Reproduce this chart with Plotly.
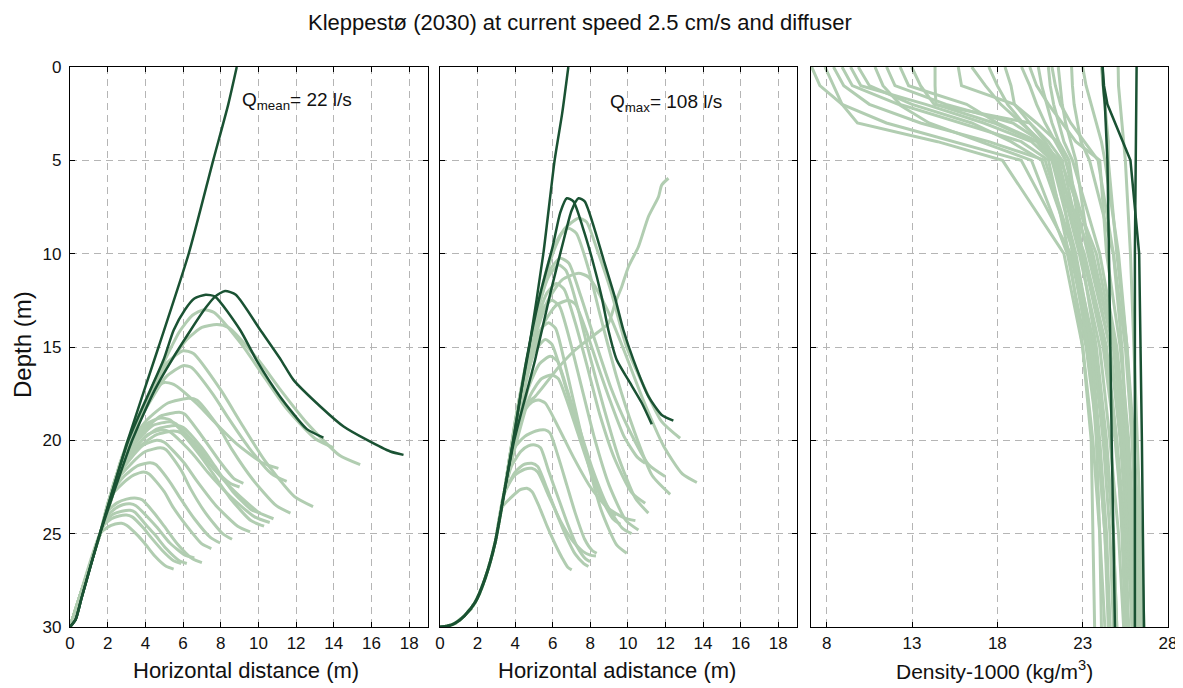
import plotly.graph_objects as go

# ---------------- colours / constants ----------------
DARK = "#1a5233"
LIGHT = "#b1cdb1"
FONT = "Liberation Sans, Arial, sans-serif"

# ---------------- LEFT PANEL (Q mean = 22 l/s) ----------------
left_trunk = [(0, 30), (0.35, 28.9), (1.6, 25.0)]

left_light = [
    [(2.3, 22.8), (3.3, 19.5), (4.8, 16.2), (5.8, 14.2), (6.5, 13.3), (7.1, 13.0), (7.65, 13.15), (9.1, 14.85), (10.1, 16.3), (11.45, 18.25), (13.0, 19.9), (14.0, 20.4)],
    [(2.3, 22.8), (3.4, 19.3), (5.0, 16.3), (6.2, 14.6), (7.0, 13.95), (7.8, 13.8), (8.4, 13.95), (10.0, 15.7), (11.1, 17.2), (12.6, 19.1), (14.3, 20.8), (15.4, 21.3)],
    [(2.3, 22.8), (3.0, 20.2), (4.2, 17.6), (5.1, 15.9), (6.0, 15.2), (6.55, 15.35), (8.0, 17.3), (9.0, 18.95), (10.35, 21.1), (11.9, 23.0), (12.9, 23.55)],
    [(2.3, 22.8), (3.0, 20.3), (4.2, 18.0), (5.1, 16.6), (6.0, 16.0), (6.45, 16.1), (7.6, 17.55), (8.4, 18.8), (9.5, 20.4), (10.7, 21.8), (11.5, 22.2)],
    [(2.2, 23.0), (2.8, 20.8), (3.6, 18.9), (4.3, 17.4), (5.0, 16.9), (5.5, 17.0), (6.75, 18.05), (7.6, 18.95), (8.8, 20.15), (10.2, 21.2), (11.06, 21.5)],
    [(2.2, 23.0), (2.8, 20.8), (4.0, 19.0), (5.2, 18.0), (6.3, 17.75), (6.75, 17.85), (7.9, 19.3), (8.6, 20.5), (9.7, 22.1), (10.95, 23.5), (11.7, 23.9)],
    [(2.2, 23.0), (2.7, 21.1), (3.8, 19.6), (4.8, 18.7), (5.8, 18.5), (6.1, 18.6), (6.8, 19.5), (7.3, 20.2), (8.0, 21.2), (8.7, 22.05), (9.2, 22.3)],
    [(2.6, 21.5), (3.4, 20.0), (4.1, 19.1), (4.8, 18.8), (5.3, 18.9), (6.5, 20.15), (7.4, 21.25), (8.6, 22.6), (10.0, 23.85), (10.8, 24.2)],
    [(2.6, 21.5), (3.5, 20.1), (4.4, 19.2), (5.3, 19.0), (5.6, 19.1), (6.4, 19.9), (7.0, 20.6), (7.6, 21.5), (8.5, 22.3), (9.0, 22.5)],
    [(2.5, 21.8), (3.4, 20.5), (4.1, 19.7), (4.8, 19.45), (5.3, 19.55), (6.5, 20.7), (7.3, 21.7), (8.5, 23.0), (9.8, 24.1), (10.6, 24.4)],
    [(2.5, 21.8), (3.6, 20.4), (4.6, 19.7), (5.5, 19.5), (5.9, 19.6), (6.9, 20.8), (7.6, 21.8), (8.5, 23.1), (9.6, 24.3), (10.3, 24.6)],
    [(2.4, 22.2), (3.2, 21.0), (3.9, 20.25), (4.6, 20.0), (5.0, 20.1), (6.05, 21.2), (6.75, 22.2), (7.75, 23.5), (8.9, 24.6), (9.56, 24.9)],
    [(2.4, 22.3), (3.3, 21.2), (4.0, 20.6), (4.8, 20.4), (5.1, 20.5), (5.9, 21.6), (6.4, 22.6), (7.2, 23.9), (8.1, 25.0), (8.6, 25.3)],
    [(2.2, 22.8), (2.9, 21.9), (3.6, 21.35), (4.25, 21.2), (4.55, 21.3), (5.35, 22.3), (5.85, 23.1), (6.6, 24.2), (7.45, 25.2), (7.97, 25.5)],
    [(2.1, 23.1), (2.8, 22.3), (3.4, 21.85), (3.9, 21.7), (4.2, 21.8), (5.0, 22.75), (5.45, 23.55), (6.2, 24.6), (7.0, 25.55), (7.5, 25.8)],
    [(2.0, 23.8), (2.5, 23.35), (3.0, 23.15), (3.54, 23.1), (3.85, 23.2), (4.55, 24.0), (5.0, 24.6), (5.7, 25.55), (6.5, 26.35), (7.0, 26.55)],
    [(1.95, 24.1), (2.4, 23.65), (2.8, 23.45), (3.19, 23.4), (3.5, 23.5), (4.2, 24.2), (4.65, 24.7), (5.3, 25.5), (6.1, 26.15), (6.6, 26.3)],
    [(1.85, 24.35), (2.3, 23.95), (2.75, 23.8), (3.19, 23.75), (3.45, 23.85), (4.05, 24.55), (4.5, 25.05), (5.1, 25.8), (5.8, 26.45), (6.2, 26.6)],
    [(2.0, 24.65), (2.4, 24.48), (2.74, 24.44), (3.0, 24.55), (3.55, 25.05), (3.95, 25.5), (4.5, 26.2), (5.1, 26.75), (5.5, 26.9)],
    [(1.75, 24.6), (2.2, 24.2), (2.6, 24.05), (3.0, 24.0), (3.3, 24.1), (3.9, 24.7), (4.3, 25.2), (4.9, 25.9), (5.5, 26.45), (5.9, 26.6)],
    [(2.6, 21.6), (3.6, 20.2), (4.6, 19.4), (5.6, 19.2), (6.0, 19.3), (7.0, 20.4), (7.7, 21.4), (8.6, 22.7), (9.6, 23.7), (10.1, 23.9)],
]

left_dark_surface = [(0, 30), (0.3, 29.6), (0.6, 28.5), (1.5, 25.3), (3.0, 20.2), (4.7, 15.0), (6.3, 10.0), (7.6, 5.0), (8.4, 2.0), (8.85, 0)]
left_dark_a = [(0, 30), (0.3, 29.6), (0.6, 28.5), (1.5, 25.3), (3.1, 20.0), (4.96, 15.7), (5.5, 14.1), (6.1, 13.0), (6.6, 12.4), (7.2, 12.2), (7.7, 12.3), (9.03, 14.09), (9.95, 15.8), (11.15, 17.66), (12.57, 19.4), (13.45, 19.85)]
left_dark_b = [(0, 30), (0.3, 29.6), (0.6, 28.5), (1.5, 25.3), (3.3, 20.0), (4.5, 17.3), (5.4, 15.7), (6.4, 14.1), (7.2, 12.9), (7.7, 12.3), (8.23, 12.0), (8.8, 12.2), (10.1, 14.09), (11.2, 15.7), (11.86, 16.76), (13.3, 18.2), (14.52, 19.26), (15.76, 19.98), (17.0, 20.6), (17.7, 20.78)]

# ---------------- MIDDLE PANEL (Q max = 108 l/s) ----------------
mid_trunk = [(0, 30), (0.4, 29.95), (0.8, 29.8), (1.3, 29.4), (1.86, 28.7), (2.4, 27.4), (2.93, 25.5)]

mid_light = [
    [(3.4, 22.9), (3.9, 20.0), (4.6, 16.0), (5.3, 12.6), (6.0, 10.0), (6.6, 8.7), (7.37, 8.1), (7.8, 8.3), (8.4, 9.9), (9.1, 12.0), (9.9, 14.9), (10.8, 17.0), (11.8, 19.0), (12.78, 19.89)],
    [(3.4, 22.9), (3.9, 20.0), (4.5, 16.5), (5.2, 12.8), (5.9, 10.1), (6.4, 9.0), (6.83, 8.64), (7.25, 8.9), (7.9, 10.8), (8.5, 13.2), (9.4, 16.6), (10.3, 19.4), (11.3, 21.9), (12.25, 22.89)],
    [(3.4, 22.9), (4.1, 18.5), (4.9, 15.0), (5.7, 12.6), (6.5, 11.4), (7.37, 11.05), (7.9, 11.25), (8.9, 13.0), (9.8, 15.2), (10.8, 17.8), (11.9, 20.3), (12.9, 21.8), (13.67, 22.26)],
    [(3.4, 22.9), (4.0, 19.0), (4.7, 15.3), (5.4, 12.3), (5.9, 10.8), (6.4, 10.25), (6.85, 10.5), (7.5, 12.3), (8.2, 14.5), (9.1, 17.2), (10.0, 19.3), (11.1, 21.3), (11.98, 21.94)],
    [(3.4, 22.9), (4.0, 19.0), (4.6, 15.8), (5.2, 13.0), (5.8, 11.2), (6.3, 10.6), (6.7, 10.9), (7.3, 12.8), (7.9, 15.2), (8.7, 18.2), (9.5, 20.9), (10.4, 23.1), (11.09, 23.9)],
    [(3.4, 22.9), (4.0, 19.2), (4.6, 16.2), (5.2, 13.5), (5.7, 12.1), (6.2, 11.6), (6.6, 11.9), (7.2, 13.7), (7.8, 15.9), (8.5, 18.6), (9.3, 21.0), (10.2, 22.8), (10.92, 23.37)],
    [(3.4, 22.9), (4.1, 18.6), (4.9, 15.6), (5.6, 13.6), (6.2, 12.75), (6.83, 12.5), (7.2, 12.7), (7.8, 14.2), (8.4, 16.0), (9.1, 18.0), (9.8, 19.8), (10.5, 20.9), (10.92, 21.23)],
    [(3.4, 22.9), (4.0, 19.5), (4.6, 16.4), (5.1, 14.1), (5.5, 12.9), (5.95, 12.5), (6.35, 12.8), (6.9, 14.6), (7.5, 17.0), (8.2, 19.8), (9.0, 22.4), (9.9, 24.3), (10.56, 24.8)],
    [(3.4, 22.9), (4.1, 19.2), (4.6, 16.6), (5.0, 14.9), (5.4, 14.0), (5.77, 13.7), (6.15, 14.0), (6.65, 15.9), (7.2, 18.3), (7.9, 21.3), (8.6, 23.8), (9.4, 25.6), (9.94, 26.05)],
    [(3.4, 22.9), (4.1, 19.3), (4.6, 16.8), (5.0, 15.3), (5.6, 14.6), (5.95, 14.85), (6.5, 16.5), (7.1, 18.6), (7.8, 20.9), (8.5, 22.9), (9.2, 24.2), (9.6, 24.5)],
    [(3.4, 22.9), (4.2, 19.6), (4.8, 17.6), (5.4, 16.7), (5.95, 16.5), (6.3, 16.7), (6.8, 18.0), (7.3, 19.5), (7.9, 21.3), (8.5, 22.9), (9.1, 23.8), (9.4, 24.0)],
    [(3.4, 22.9), (4.2, 19.4), (4.7, 17.2), (5.3, 15.9), (5.86, 15.5), (6.25, 15.75), (6.8, 17.4), (7.4, 19.3), (8.1, 21.5), (8.9, 23.5), (9.7, 24.7), (10.2, 25.0)],
    [(3.4, 22.9), (3.9, 20.5), (4.5, 19.8), (5.1, 19.5), (5.59, 19.44), (5.85, 19.6), (6.3, 20.9), (6.75, 22.4), (7.2, 23.9), (7.7, 25.3), (8.1, 25.9), (8.34, 26.05)],
    [(3.4, 22.9), (3.8, 21.4), (4.3, 20.6), (4.7, 20.3), (5.06, 20.25), (5.35, 20.4), (5.8, 21.7), (6.3, 23.1), (6.8, 24.5), (7.3, 25.7), (7.75, 26.35), (7.99, 26.5)],
    [(3.4, 22.9), (4.0, 21.7), (4.45, 21.3), (4.88, 21.23), (5.2, 21.4), (5.7, 22.6), (6.2, 23.9), (6.7, 25.1), (7.2, 26.1), (7.65, 26.6), (7.9, 26.76)],
    [(3.3, 23.6), (3.9, 22.95), (4.25, 22.65), (4.62, 22.57), (4.9, 22.75), (5.3, 23.6), (5.7, 24.6), (6.1, 25.5), (6.5, 26.3), (6.8, 26.8), (7.01, 26.94)],
    [(3.4, 22.9), (3.95, 21.9), (4.5, 21.55), (4.88, 21.5), (5.2, 21.7), (5.8, 23.0), (6.4, 24.3), (7.0, 25.3), (7.6, 25.95), (8.0, 26.15), (8.3, 26.2)],
    [(3.4, 22.9), (4.0, 19.6), (4.5, 18.4), (4.9, 17.95), (5.24, 17.84), (5.6, 18.0), (6.3, 19.3), (7.1, 20.9), (8.0, 22.5), (8.9, 23.6), (9.8, 24.15), (10.4, 24.3)],
    [(3.4, 22.9), (3.9, 20.0), (4.4, 18.2), (5.06, 17.66), (6.3, 16.1), (7.19, 15.16), (8.08, 14.45), (8.96, 13.73), (9.32, 12.66), (9.67, 11.77), (10.03, 10.7), (10.56, 9.63), (11.09, 8.02), (11.63, 6.95), (11.8, 6.32), (12.16, 5.96)],
]

mid_dark_surface = [(3.4, 22.9), (3.9, 20.0), (4.3, 17.5), (4.75, 15.0), (5.5, 10.0), (6.1, 5.0), (6.5, 2.5), (6.83, 0)]
mid_dark_c = [(3.4, 22.9), (3.9, 20.0), (4.6, 15.7), (5.3, 12.3), (6.0, 9.6), (6.4, 7.8), (6.75, 7.03), (7.1, 7.2), (7.6, 8.6), (8.1, 10.3), (8.6, 12.3), (8.96, 14.09), (9.41, 15.7), (10.03, 16.78), (10.74, 18.0), (11.27, 19.14)]
mid_dark_d = [(3.4, 22.9), (3.95, 20.0), (5.06, 15.7), (5.9, 12.0), (6.6, 9.2), (7.0, 7.7), (7.37, 7.03), (7.7, 7.2), (8.2, 8.6), (8.7, 10.3), (9.3, 12.3), (9.76, 14.09), (10.3, 15.7), (11.1, 17.66), (11.8, 18.64), (12.42, 18.94)]

# ---------------- RIGHT PANEL (density profiles) ----------------
profile_depths = [0, 1, 2, 3, 4, 5, 10, 15, 20, 25, 30]

density_light = [
    [7.12, 7.6, 8.9, 9.8, 14.5, 18.3, 21.9, 23.0, 23.5, 23.6, 23.7],
    [7.9, 8.4, 8.9, 11.5, 15.5, 19.4, 22.3, 23.4, 23.8, 24.0, 24.1],
    [8.9, 9.5, 12.2, 14.0, 17.0, 20.0, 22.1, 23.2, 23.9, 24.3, 24.5],
    [9.85, 10.5, 13.0, 16.5, 18.8, 20.6, 22.5, 23.7, 24.3, 24.8, 25.0],
    [10.83, 11.3, 12.3, 15.8, 19.4, 21.0, 22.2, 23.0, 23.6, 24.0, 24.3],
    [11.51, 12.0, 15.0, 18.9, 20.6, 21.4, 22.8, 24.0, 24.6, 25.1, 25.4],
    [12.98, 13.5, 14.3, 19.9, 21.0, 21.8, 23.0, 24.3, 25.0, 25.5, 25.7],
    [14.35, 14.35, 14.4, 17.8, 20.3, 21.2, 22.6, 23.6, 24.2, 24.6, 24.8],
    [15.71, 15.9, 19.0, 20.3, 21.5, 22.0, 23.3, 24.6, 25.2, 25.6, 25.9],
    [18.45, 18.8, 19.0, 19.9, 20.8, 21.5, 22.4, 23.3, 23.9, 24.3, 24.6],
    [19.42, 19.9, 20.3, 20.8, 21.4, 22.0, 23.6, 24.8, 25.4, 25.8, 26.0],
    [20.4, 20.6, 20.9, 21.2, 21.6, 22.2, 23.0, 24.2, 24.9, 25.4, 25.6],
    [20.99, 21.1, 21.3, 21.6, 21.9, 22.4, 24.0, 25.0, 25.6, 26.0, 26.2],
    [21.57, 21.7, 21.8, 22.0, 22.3, 22.6, 23.4, 24.6, 25.3, 25.7, 25.9],
    [22.35, 22.4, 22.5, 22.7, 22.9, 23.4, 24.8, 25.5, 25.9, 26.2, 26.4],
    [24.1, 24.2, 24.3, 24.4, 24.5, 24.5, 25.0, 25.6, 26.0, 26.3, 26.5],
    [25.08, 25.1, 25.2, 25.3, 25.4, 25.5, 25.8, 26.0, 26.2, 26.4, 26.6],
    [8.4, 9.0, 10.5, 13.5, 17.5, 20.8, 22.5, 23.5, 24.0, 24.4, 24.6],
    [9.4, 10.0, 13.8, 17.2, 20.0, 21.2, 23.1, 24.4, 25.0, 25.3, 25.5],
    [12.3, 12.8, 16.2, 18.0, 20.4, 21.7, 23.8, 24.9, 25.5, 25.9, 26.1],
    [17.5, 18.0, 18.6, 19.5, 20.5, 21.3, 23.5, 24.8, 25.4, 25.8, 26.0],
    [19.9, 20.3, 21.0, 21.8, 22.6, 24.0, 24.4, 25.2, 25.7, 26.0, 26.2],
    [23.0, 23.2, 23.5, 23.8, 24.1, 24.3, 25.1, 25.6, 25.9, 26.1, 26.3],
    [21.2, 21.4, 21.7, 22.3, 23.1, 23.9, 24.8, 25.3, 25.6, 25.8, 25.9],
    [16.5, 17.3, 18.2, 19.4, 20.6, 21.6, 22.9, 23.8, 24.4, 24.8, 25.0],
]

density_dark_1 = [24.17, 24.2, 24.3, 24.35, 24.4, 24.45, 24.54, 24.6, 24.7, 24.8, 24.89]
density_dark_2 = [26.16, 26.15, 26.14, 26.13, 26.12, 26.12, 26.06, 26.06, 26.06, 26.06, 26.06]
density_dark_3 = [24.17, 24.25, 24.45, 24.9, 25.35, 25.8, 26.31, 26.4, 26.47, 26.53, 26.59]

# ---------------- tick definitions ----------------
dist_ticks = [0, 2, 4, 6, 8, 10, 12, 14, 16, 18]
depth_ticks = [0, 5, 10, 15, 20, 25, 30]
density_ticks = [8, 13, 18, 23, 28]

# ---------------- figure ----------------
fig = go.Figure()


def add_curve(points, xa, ya, color, width, shape="spline"):
    fig.add_trace(go.Scatter(
        x=[p[0] for p in points], y=[p[1] for p in points],
        mode="lines", xaxis=xa, yaxis=ya,
        line=dict(color=color, width=width, shape=shape, smoothing=0.6),
        hoverinfo="skip", showlegend=False))


for c in left_light:
    add_curve(left_trunk + c, "x", "y", LIGHT, 3)
for c in (left_dark_surface, left_dark_a, left_dark_b):
    add_curve(c, "x", "y", DARK, 2.5)

for c in mid_light:
    add_curve(mid_trunk + c, "x2", "y2", LIGHT, 3)
for c in (mid_dark_surface, mid_dark_c, mid_dark_d):
    add_curve(mid_trunk + c, "x2", "y2", DARK, 2.5)

for prof in density_light:
    add_curve(list(zip(prof, profile_depths)), "x3", "y3", LIGHT, 3, "linear")
for prof in (density_dark_1, density_dark_2, density_dark_3):
    add_curve(list(zip(prof, profile_depths)), "x3", "y3", DARK, 2.5, "linear")

# the page body adds an 8px offset; positions below are screen pixels
OFF = 8
W, H = 1183 - OFF, 688 - OFF


def px(x):
    return (x - OFF) / W


def py(y):
    return (H - (y - OFF)) / H


ydom = [py(627), py(67)]

common = dict(
    showline=True, linecolor="black", linewidth=1.3, mirror="ticks",
    ticks="inside", ticklen=5, tickwidth=1, tickcolor="black",
    showgrid=True, gridcolor="#b5b5b5", gridwidth=1, griddash="7px,5px",
    zeroline=False, automargin=False,
    tickfont=dict(family=FONT, size=17, color="#111"),
)

fig.update_layout(
    width=W, height=H,
    margin=dict(l=0, r=0, t=0, b=0, autoexpand=False),
    paper_bgcolor="white", plot_bgcolor="white",
    font=dict(family=FONT, color="#111"),
    xaxis=dict(domain=[px(70), px(428)], range=[0, 19], tickvals=dist_ticks, anchor="y", ticklabelstandoff=0, **common),
    yaxis=dict(domain=ydom, range=[30, 0], tickvals=depth_ticks, anchor="x", ticklabelstandoff=4, **common),
    xaxis2=dict(domain=[px(440), px(797)], range=[0, 19], tickvals=dist_ticks, anchor="y2", ticklabelstandoff=0, **common),
    yaxis2=dict(domain=ydom, range=[30, 0], tickvals=depth_ticks, anchor="x2", showticklabels=False, **common),
    xaxis3=dict(domain=[px(811), px(1168)], range=[7.08, 28], tickvals=density_ticks, anchor="y3", ticklabelstandoff=0, **common),
    yaxis3=dict(domain=ydom, range=[30, 0], tickvals=depth_ticks, anchor="x3", showticklabels=False, **common),
)


def ann(text, x, y, size, xanchor="center", angle=0):
    fig.add_annotation(text=text, x=px(x), y=py(y), xref="paper", yref="paper",
                       xanchor=xanchor, yanchor="middle", showarrow=False, textangle=angle,
                       font=dict(family=FONT, size=size, color="#111"))


ann("Kleppestø (2030) at current speed 2.5 cm/s and diffuser", 580, 22, 22)
ann("Q<sub>mean</sub>= 22 l/s", 240, 101, 19, xanchor="left")
ann("Q<sub>max</sub>= 108 l/s", 608, 103, 19, xanchor="left")
ann("Depth (m)", 22, 345, 24, angle=-90)
ann("Horizontal distance (m)", 246, 670, 22)
ann("Horizontal adistance (m)", 617, 670, 22)
ann("Density-1000 (kg/m<sup>3</sup>)", 994, 670, 21)

fig.write_html("out.html")
